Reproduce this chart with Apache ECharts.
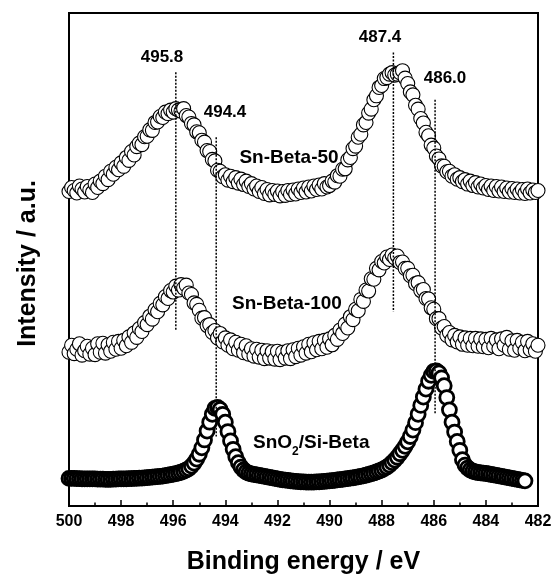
<!DOCTYPE html>
<html>
<head>
<meta charset="utf-8">
<script src="https://cdn.jsdelivr.net/npm/echarts@6/dist/echarts.min.js"></script>
<style>
  html, body { margin: 0; padding: 0; background: #fff; }
  #chart { width: 552px; height: 578px; }
</style>
</head>
<body>
<div id="chart"></div>
<script>
// scan grid (eV)
const scanStep = 0.1;
const betaStart = 500.0;   // Sn-Beta scans: 500.0 -> 482.0
const sno2Start = 500.0;   // SnO2 scan: 500.0 -> 482.5

// intensity (a.u., offset traces), one value per 0.1 eV
const snBeta50 = [
  63.8, 64.6, 64.0, 63.5, 64.9, 64.3, 63.7, 64.8, 64.1, 63.6,
  65.3, 64.6, 65.9, 65.4, 66.9, 66.2, 67.9, 67.3, 68.7, 68.2,
  69.6, 68.9, 70.7, 70.1, 71.9, 71.2, 72.9, 73.6, 73.3, 74.9,
  75.0, 76.3, 76.2, 77.8, 77.9, 79.0, 78.8, 79.9, 79.6, 80.3,
  79.9, 80.6, 80.3, 80.1, 80.6, 79.2, 78.9, 77.6, 77.3, 75.9,
  75.7, 74.2, 73.8, 72.1, 71.9, 70.3, 70.0, 68.1, 67.9, 66.8,
  67.2, 66.1, 66.9, 65.8, 66.6, 65.5, 66.3, 65.2, 65.9, 64.8,
  65.4, 64.3, 64.9, 63.8, 64.6, 63.4, 64.2, 63.1, 64.0, 63.2,
  63.9, 62.9, 63.8, 63.0, 64.0, 63.2, 64.1, 63.3, 64.3, 63.6,
  64.5, 63.7, 64.7, 63.9, 64.9, 64.2, 65.1, 64.3, 65.4, 64.7,
  65.0, 65.9, 65.7, 67.0, 66.9, 68.3, 68.4, 70.2, 70.7, 72.5,
  73.0, 74.8, 75.4, 77.3, 77.8, 79.7, 80.5, 82.4, 83.2, 84.9,
  85.3, 86.7, 86.9, 87.6, 87.9, 87.4, 87.6, 87.9, 88.3, 86.8,
  85.7, 84.0, 83.4, 81.3, 80.5, 78.6, 77.7, 75.8, 75.1, 73.2,
  72.6, 71.0, 70.4, 69.0, 68.9, 67.8, 67.9, 66.9, 67.2, 66.3,
  66.6, 65.8, 66.2, 65.3, 65.9, 65.0, 65.6, 64.7, 65.3, 64.5,
  65.0, 64.2, 64.9, 64.0, 64.8, 63.9, 64.7, 63.8, 64.5, 63.7,
  64.4, 63.6, 64.3, 63.5, 64.2, 63.4, 64.3, 63.5, 64.1, 63.6,
  64.0
];
const snBeta100 = [
  31.2, 32.6, 30.9, 31.8, 32.9, 30.6, 31.5, 32.4, 30.8, 32.0,
  30.7, 32.9, 31.2, 33.0, 31.0, 32.7, 31.4, 33.2, 31.8, 33.4,
  32.0, 33.6, 32.5, 34.3, 33.2, 35.1, 34.2, 36.0, 35.4, 37.2,
  36.8, 38.5, 37.9, 39.8, 39.4, 41.1, 40.8, 42.5, 42.1, 43.7,
  43.4, 44.6, 43.8, 44.9, 44.2, 44.8, 43.2, 42.9, 41.2, 40.9,
  39.7, 38.1, 38.2, 36.6, 36.8, 35.2, 35.6, 34.1, 35.0, 33.3,
  34.1, 32.6, 33.7, 31.9, 33.2, 31.6, 32.8, 31.1, 32.5, 30.8,
  31.9, 30.4, 31.8, 30.2, 31.6, 29.9, 31.5, 30.0, 31.3, 29.8,
  31.4, 29.7, 31.2, 30.0, 31.5, 29.9, 31.7, 30.3, 32.0, 30.6,
  32.3, 31.0, 32.8, 31.3, 33.1, 31.7, 33.4, 31.9, 33.6, 32.2,
  33.9, 32.7, 34.6, 33.8, 35.7, 35.0, 36.9, 36.1, 38.4, 37.8,
  39.9, 39.6, 41.9, 41.5, 43.8, 43.6, 46.1, 46.0, 48.2, 47.9,
  49.6, 49.3, 50.5, 50.0, 50.9, 50.3, 50.7, 49.4, 49.5, 48.2,
  48.2, 46.7, 46.8, 45.1, 45.3, 43.7, 43.9, 42.1, 42.0, 40.2,
  39.9, 38.0, 38.0, 36.1, 36.4, 34.6, 35.2, 33.7, 34.6, 33.3,
  34.3, 32.8, 34.1, 32.6, 34.0, 32.5, 34.0, 32.4, 33.9, 32.3,
  33.8, 32.1, 34.0, 32.4, 33.7, 31.9, 33.9, 32.6, 34.2, 31.8,
  33.5, 31.6, 33.6, 32.0, 33.2, 31.5, 33.4, 31.7, 32.9, 31.4,
  32.6
];
const sno2SiBeta = [
  5.6, 5.6, 5.6, 5.55, 5.55, 5.5, 5.5, 5.5, 5.5, 5.5,
  5.5, 5.45, 5.45, 5.45, 5.4, 5.4, 5.4, 5.45, 5.45, 5.5,
  5.5, 5.5, 5.5, 5.55, 5.55, 5.6, 5.6, 5.65, 5.65, 5.7,
  5.75, 5.8, 5.85, 5.9, 5.95, 6.0, 6.05, 6.15, 6.25, 6.35,
  6.45, 6.55, 6.7, 6.85, 7.05, 7.3, 7.6, 8.1, 8.7, 9.5,
  10.5, 11.8, 13.4, 15.2, 17.0, 18.6, 19.8, 20.0, 19.6, 18.6,
  17.0, 15.1, 13.2, 11.5, 10.0, 8.8, 7.9, 7.3, 6.9, 6.65,
  6.5, 6.4, 6.3, 6.2, 6.1, 6.0, 5.9, 5.8, 5.7, 5.6,
  5.5, 5.4, 5.3, 5.25, 5.2, 5.1, 5.05, 5.0, 4.95, 4.9,
  4.9, 4.85, 4.85, 4.85, 4.85, 4.9, 4.9, 4.95, 5.0, 5.05,
  5.1, 5.15, 5.2, 5.3, 5.35, 5.4, 5.5, 5.55, 5.65, 5.7,
  5.8, 5.9, 6.0, 6.1, 6.25, 6.4, 6.55, 6.7, 6.9, 7.1,
  7.3, 7.6, 7.9, 8.3, 8.8, 9.3, 9.9, 10.6, 11.3, 12.1,
  13.0, 14.1, 15.4, 16.9, 18.6, 20.4, 22.1, 23.7, 25.3, 26.5,
  27.3, 27.4, 27.0, 26.0, 24.4, 22.0, 19.5, 17.0, 15.0, 13.1,
  11.3, 9.4, 8.3, 7.7, 7.3, 7.05, 6.9, 6.8, 6.7, 6.65,
  6.6, 6.5, 6.4, 6.3, 6.2, 6.1, 6.0, 5.9, 5.8, 5.7,
  5.6, 5.5, 5.4, 5.3, 5.2, 5.1
];

// dotted guide lines: drawn position, top and bottom (same units as intensity)
const guideEnergy = [495.9, 494.35, 487.55, 485.95];
const guideTop = [88.0, 74.8, 92.0, 82.4];
const guideBottom = [35.6, 14.1, 39.4, 18.5];
const guideText = ['495.8', '494.4', '487.4', '486.0'];

const seriesNames = ['Sn-Beta-50', 'Sn-Beta-100', 'SnO2/Si-Beta'];
const xTicks = { min: 482, max: 500, interval: 2 };

function withEnergy(values, start) {
  return values.map((v, i) => [+(start - i * scanStep).toFixed(2), v]);
}

const font = '"Liberation Sans", Arial, Helvetica, sans-serif';
const chart = echarts.init(document.getElementById('chart'));

const circleSeries = (name, data, size, border) => ({
  name: name,
  type: 'scatter',
  data: data,
  symbol: 'circle',
  symbolSize: size,
  itemStyle: { color: '#fff', borderColor: '#000', borderWidth: border, opacity: 1 },
  emphasis: { disabled: true },
  animation: false,
  z: 2
});

const guideSeries = guideEnergy.map((e, i) => ({
  type: 'line',
  data: [[e, guideTop[i]], [e, guideBottom[i]]],
  symbol: 'none',
  lineStyle: { color: '#000', width: 1.5, type: [2, 1.5] },
  animation: false,
  silent: true,
  z: 5
}));

const option = {
  backgroundColor: '#fff',
  animation: false,
  grid: {
    left: 69, right: 14, top: 13, bottom: 72,
    show: true, borderColor: '#000', borderWidth: 2,
    outerBoundsMode: 'none'
  },
  xAxis: {
    type: 'value',
    inverse: true,
    min: xTicks.min, max: xTicks.max, interval: xTicks.interval,
    name: 'Binding energy / eV',
    nameLocation: 'middle',
    nameGap: 44,
    nameTextStyle: { fontFamily: font, fontWeight: 'bold', fontSize: 25, color: '#000' },
    axisLine: { show: true, lineStyle: { color: '#000', width: 2 } },
    axisTick: { show: true, inside: true, length: 6, lineStyle: { color: '#000', width: 1.5 } },
    minorTick: { show: true, splitNumber: 2, length: 3.5, lineStyle: { color: '#000', width: 1.5 } },
    splitLine: { show: false },
    axisLabel: { fontFamily: font, fontWeight: 'bold', fontSize: 16, color: '#000', margin: 8 }
  },
  yAxis: {
    type: 'value',
    min: 0, max: 100,
    name: 'Intensity / a.u.',
    nameLocation: 'middle',
    nameGap: 28,
    nameTextStyle: { fontFamily: font, fontWeight: 'bold', fontSize: 25, color: '#000', padding: [0, 8, 0, 0] },
    axisLine: { show: true, lineStyle: { color: '#000', width: 2 } },
    axisTick: { show: false },
    axisLabel: { show: false },
    splitLine: { show: false }
  },
  series: [
    circleSeries(seriesNames[0], withEnergy(snBeta50, betaStart), 14, 1.1),
    circleSeries(seriesNames[1], withEnergy(snBeta100, betaStart), 14, 1.1),
    circleSeries(seriesNames[2], withEnergy(sno2SiBeta, sno2Start), 14, 2.8)
  ].concat(guideSeries),
  graphic: [
    { type: 'text', x: 162, y: 57, style: { text: guideText[0], font: 'bold 17px ' + font, fill: '#000', align: 'center', verticalAlign: 'middle' } },
    { type: 'text', x: 225, y: 112, style: { text: guideText[1], font: 'bold 17px ' + font, fill: '#000', align: 'center', verticalAlign: 'middle' } },
    { type: 'text', x: 380, y: 37, style: { text: guideText[2], font: 'bold 17px ' + font, fill: '#000', align: 'center', verticalAlign: 'middle' } },
    { type: 'text', x: 445, y: 78, style: { text: guideText[3], font: 'bold 17px ' + font, fill: '#000', align: 'center', verticalAlign: 'middle' } },
    { type: 'text', x: 289, y: 158, style: { text: seriesNames[0], font: 'bold 19px ' + font, fill: '#000', align: 'center', verticalAlign: 'middle' } },
    { type: 'text', x: 287, y: 304, style: { text: seriesNames[1], font: 'bold 19px ' + font, fill: '#000', align: 'center', verticalAlign: 'middle' } },
    {
      type: 'text', x: 253, y: 443,
      style: {
        text: '{a|SnO}{s|2}{a|/Si-Beta}',
        align: 'left', verticalAlign: 'middle',
        rich: {
          a: { fontFamily: font, fontWeight: 'bold', fontSize: 19, fill: '#000', lineHeight: 30, verticalAlign: 'middle' },
          s: { fontFamily: font, fontWeight: 'bold', fontSize: 12, fill: '#000', lineHeight: 30, verticalAlign: 'bottom' }
        }
      }
    }
  ]
};

chart.setOption(option);
</script>
</body>
</html>
